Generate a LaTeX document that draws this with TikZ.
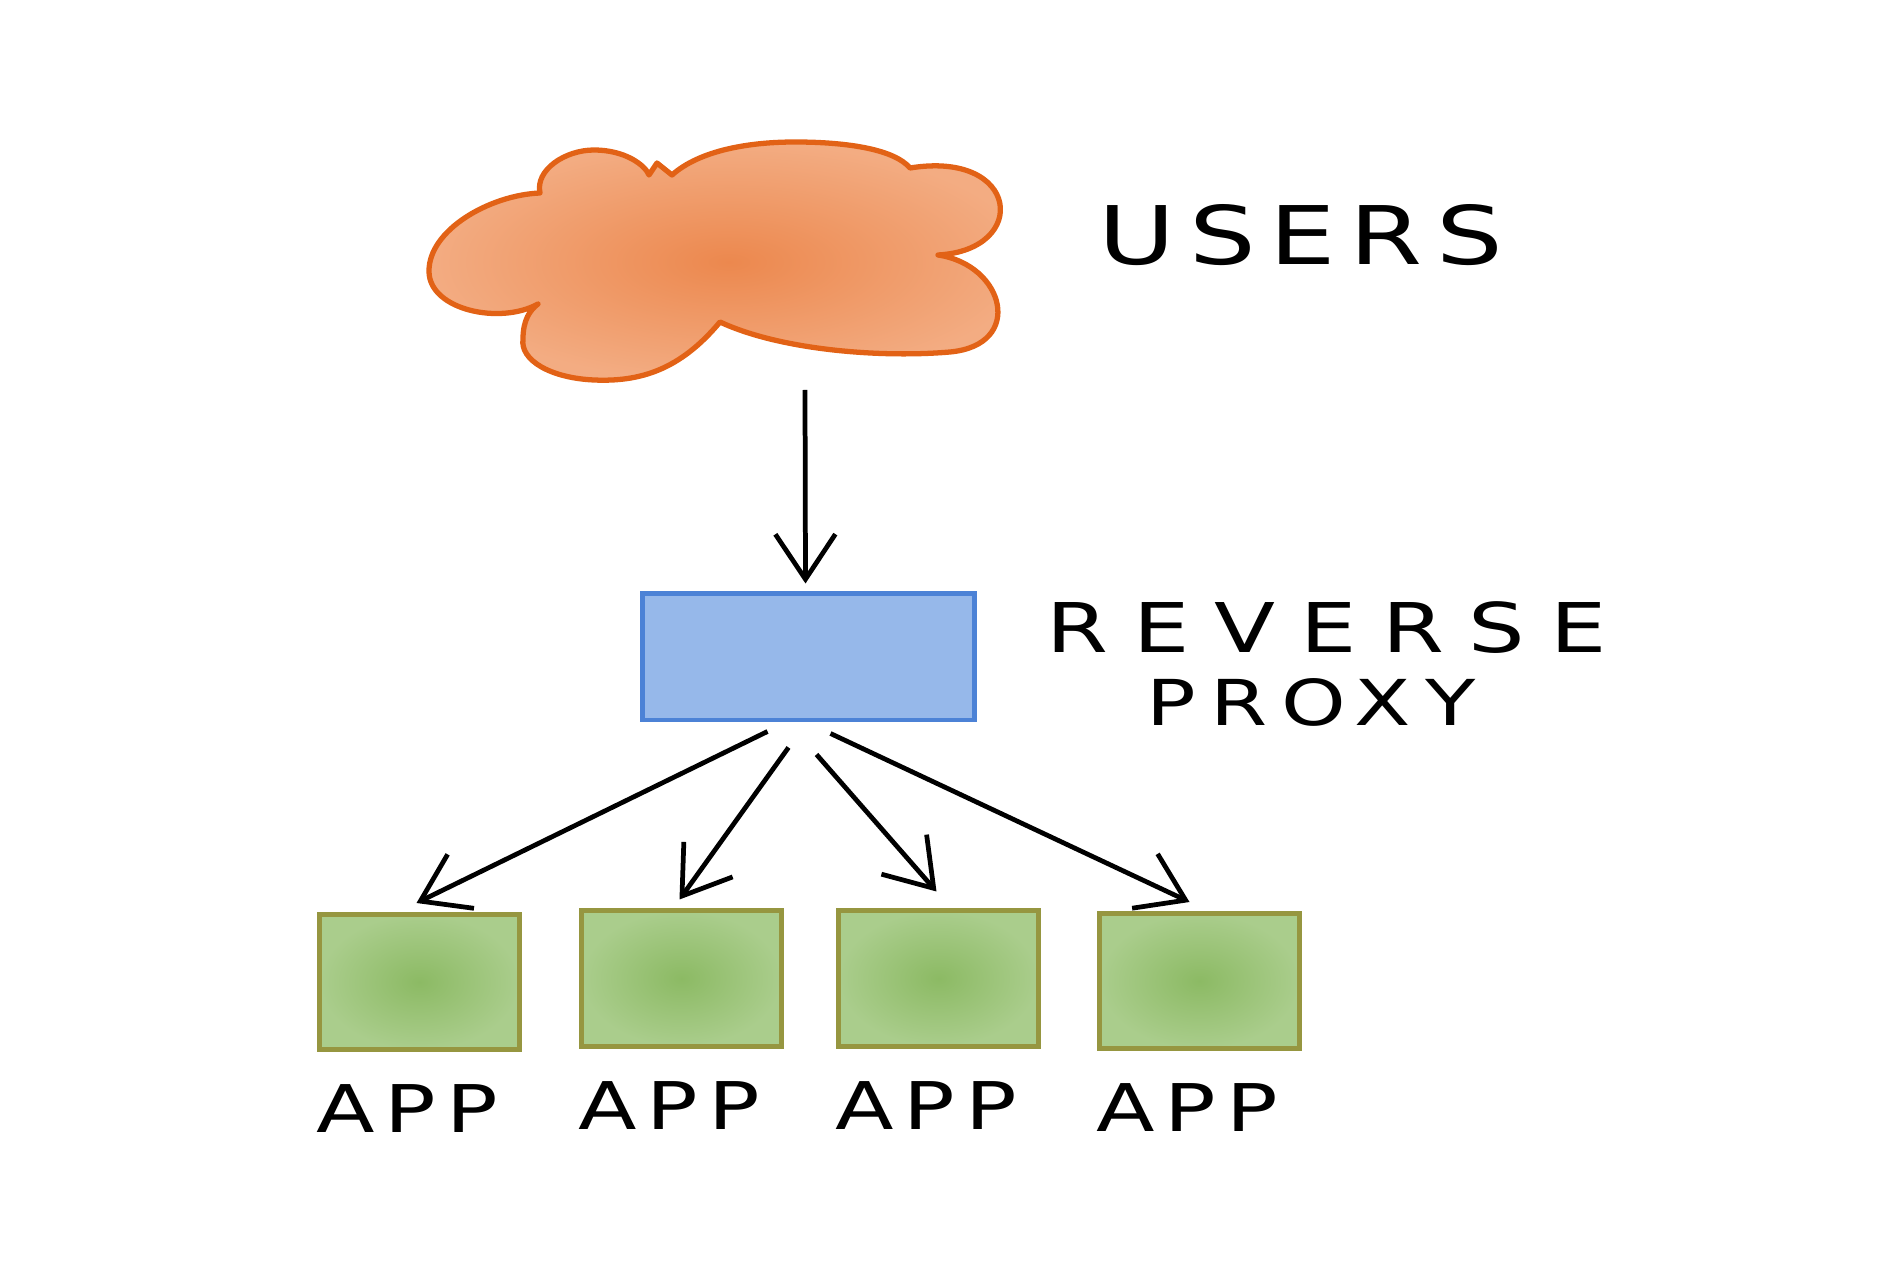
\documentclass[tikz,border=0pt]{standalone}
\usepackage{fontspec}
\setmainfont{DejaVu Sans}
\usetikzlibrary{arrows.meta,calc}

\definecolor{cloudline}{RGB}{226,98,22}
\definecolor{cloudin}{RGB}{236,136,78}
\definecolor{cloudout}{RGB}{243,172,130}
\definecolor{proxyline}{RGB}{76,130,214}
\definecolor{proxyfill}{RGB}{150,184,234}
\definecolor{appline}{RGB}{150,150,64}
\definecolor{appin}{RGB}{140,186,100}
\definecolor{appout}{RGB}{170,205,140}

\tikzset{
  appbox/.style={draw=appline, inner color=appin, outer color=appout, line width=1.4pt,
    inner sep=0pt, minimum width=1.99cm, minimum height=1.35cm},
  proxybox/.style={draw=proxyline, fill=proxyfill, line width=1.4pt, inner sep=0pt,
    minimum width=3.31cm, minimum height=1.26cm},
  arr/.style={-{Straight Barb[length=4.5mm,width=6mm]}, line width=1.35pt},
  lbl/.style={anchor=west, inner sep=0pt, text=black}
}
\newcommand{\hand}[3]{\fontsize{#1}{#1}\selectfont\addfontfeatures{LetterSpace=#2}\scalebox{1.3}[1]{#3}}

\begin{document}
\begin{tikzpicture}[x=0.01cm, y=-0.01cm]
    \useasboundingbox (0,0) rectangle (1902,1267);

    % Cloud
    \path[draw=cloudline, inner color=cloudin, outer color=cloudout, line width=1.5pt, line join=round]
      (540,193) .. controls (535,170) and (565,150) .. (594,150)
      .. controls (625,150) and (645,165) .. (649,175)
      -- (657,163) -- (672,175)
      .. controls (700,150) and (750,142) .. (795,142)
      .. controls (850,142) and (895,150) .. (910,168)
      .. controls (1020,150) and (1030,250) .. (938,255)
      .. controls (1005,265) and (1025,345) .. (950,352)
      .. controls (880,358) and (780,350) .. (720,322)
      .. controls (680,370) and (640,382) .. (594,380)
      .. controls (550,378) and (520,360) .. (523,339)
      .. controls (523,320) and (530,310) .. (538,304)
      .. controls (500,325) and (430,310) .. (429,272)
      .. controls (428,230) and (490,195) .. (540,193) -- cycle;
    \coordinate (users) at (805,390);

    % Nodes
    \node[proxybox] (proxy) at (808.5,657) {};
    \node[appbox] (app1) at (419.5,982) {};
    \node[appbox] (app2) at (681.5,978.5) {};
    \node[appbox] (app3) at (938.5,978.5) {};
    \node[appbox] (app4) at (1199.5,981) {};

    % Labels
    \node[lbl] (users-label) at (1098,235) {\hand{23}{13}{USERS}};
    \node[lbl] (reverse-label) at (1046,628) {\hand{19.5}{28}{REVERSE}};
    \node[lbl] (proxy-label) at (1146,702) {\hand{18}{17}{PROXY}};
    \foreach \i in {1,...,4}
      \node[lbl] (app\i-label) at ($(app\i.south west)+(-2,57)$) {\hand{18.7}{12}{APP}};

    % Edges
    \draw[arr] (users) -- ($(proxy.north)+(-3,-8)$);
    \draw[arr] ($(proxy.south)+(-41,9)$) -- ($(app1.north)+(-3,-9)$);
    \draw[arr] ($(proxy.south)+(-20,25)$) -- ($(app2.north)+(-2,-9)$);
    \draw[arr] ($(proxy.south)+(8,32)$) -- ($(app3.north)+(-2,-17)$);
    \draw[arr] ($(proxy.south)+(22,11)$) -- ($(app4.north)+(-10,-9)$);
\end{tikzpicture}
\end{document}
